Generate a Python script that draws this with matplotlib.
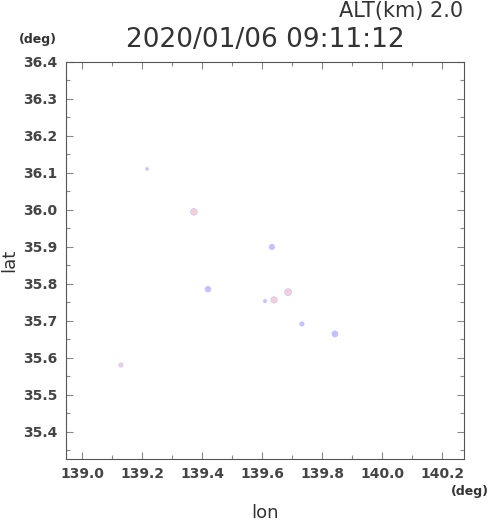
import matplotlib
matplotlib.use("Agg")
import matplotlib.pyplot as plt
from matplotlib.ticker import MultipleLocator, FormatStrFormatter

# data
blue_lon = [139.217, 139.633, 139.42, 139.61, 139.733, 139.843]
blue_lat = [36.111, 35.900, 35.786, 35.754, 35.692, 35.665]
blue_size = [7, 20, 22, 8, 14, 24]
pink_lon = [139.373, 139.64, 139.687, 139.13]
pink_lat = [35.995, 35.757, 35.778, 35.581]
pink_size = [22, 20, 24, 9]

title = "2020/01/06 09:11:12"
alt_label = "ALT(km) 2.0"

fig = plt.figure(figsize=(4.9, 5.21), dpi=100)
ax = fig.add_axes([66/490, 1-459/521, (464-66)/490, (459-62)/521])
ax.set_xlim(138.947, 140.273)
ax.set_ylim(35.327, 36.4)

ax.scatter(blue_lon, blue_lat, s=blue_size, color=(0.76, 0.76, 1.0), edgecolors='none', zorder=3)
ax.scatter(pink_lon, pink_lat, s=pink_size, color=(1.0, 0.80, 0.82), edgecolors=(0.8, 0.8, 1.0), linewidths=0.7, zorder=3)

ax.xaxis.set_major_locator(MultipleLocator(0.2))
ax.xaxis.set_minor_locator(MultipleLocator(0.1))
ax.yaxis.set_major_locator(MultipleLocator(0.1))
ax.yaxis.set_minor_locator(MultipleLocator(0.05))
ax.xaxis.set_major_formatter(FormatStrFormatter('%.1f'))
ax.yaxis.set_major_formatter(FormatStrFormatter('%.1f'))
ax.tick_params(which='both', direction='in', top=True, right=True, color='#888888', width=0.8)
ax.tick_params(which='major', length=5, labelsize=10, labelcolor='#444444', pad=6)
ax.tick_params(which='minor', length=3)
for lab in ax.get_xticklabels() + ax.get_yticklabels():
    lab.set_fontweight('bold')
for sp in ax.spines.values():
    sp.set_color('#555555')
    sp.set_linewidth(0.8)

fig.text(463/490, 1-11/521, alt_label, ha='right', va='center', fontsize=15, color='#333333')
fig.text(265/490, 1-40/521, title, ha='center', va='center', fontsize=19, color='#333333')
fig.text(38/490, 1-40/521, "(deg)", ha='center', va='center', fontsize=9, fontweight='bold', color='#333333')
fig.text(489/490, 1-491/521, "(deg)", ha='right', va='center', fontsize=9, fontweight='bold', color='#333333')
fig.text(265/490, 1-513/521, "lon", ha='center', va='center', fontsize=13, color='#333333')
fig.text(9/490, 1-260/521, "lat", ha='center', va='center', rotation=90, fontsize=13, color='#333333')

fig.savefig("out.png", dpi=100)
